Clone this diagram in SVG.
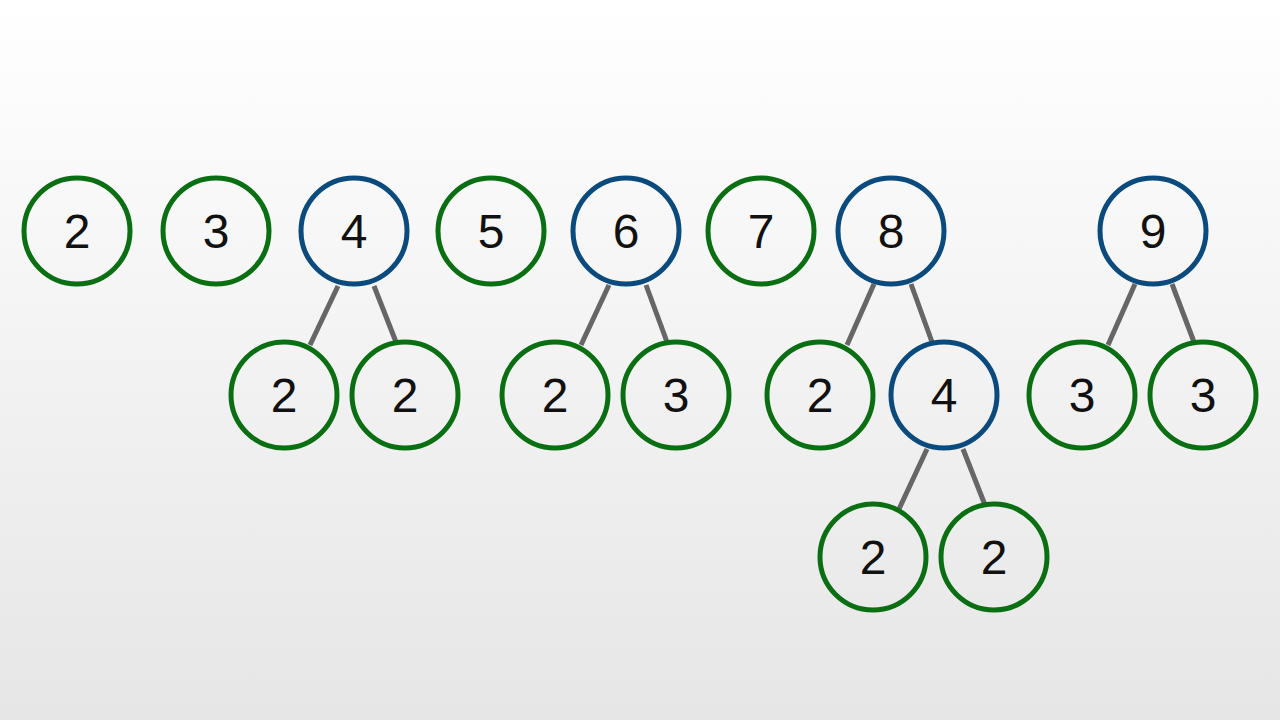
<svg xmlns="http://www.w3.org/2000/svg" width="1280" height="720" viewBox="0 0 1280 720">
<defs>
<linearGradient id="bg" x1="0" y1="0" x2="0" y2="1"><stop offset="0" stop-color="#ffffff"/><stop offset="1" stop-color="#e6e6e6"/></linearGradient>
<style>
.g{fill:none;stroke:#0a6e12;stroke-width:5}
.b{fill:none;stroke:#0b4a7c;stroke-width:5}
.t{font-family:"Liberation Sans",Arial,sans-serif;font-size:48px;fill:#111;text-anchor:middle}
.c line{stroke:#666;stroke-width:5}
</style>
</defs>
<rect width="1280" height="720" fill="url(#bg)"/>
<g class="c" id="connectors">
<line x1="338" y1="286" x2="310" y2="345"/><line x1="374" y1="286" x2="396" y2="342"/>
<line x1="609" y1="285" x2="581" y2="345"/><line x1="646" y1="285" x2="667" y2="342"/>
<line x1="874" y1="284" x2="847" y2="345"/><line x1="911" y1="284" x2="932" y2="342"/>
<line x1="1135" y1="284" x2="1108" y2="345"/><line x1="1172" y1="284" x2="1194" y2="342"/>
<line x1="927" y1="449" x2="899" y2="509"/><line x1="963" y1="449" x2="985" y2="505"/>
</g>
<g id="n2"><circle class="g" cx="77" cy="231" r="53"/><text class="t" x="77" y="248">2</text></g>
<g id="n3"><circle class="g" cx="216" cy="231" r="53"/><text class="t" x="216" y="248">3</text></g>
<g id="n4"><circle class="b" cx="354" cy="231" r="53"/><text class="t" x="354" y="248">4</text></g>
<g id="n5"><circle class="g" cx="491" cy="231" r="53"/><text class="t" x="491" y="248">5</text></g>
<g id="n6"><circle class="b" cx="626" cy="231" r="53"/><text class="t" x="626" y="248">6</text></g>
<g id="n7"><circle class="g" cx="761" cy="231" r="53"/><text class="t" x="761" y="248">7</text></g>
<g id="n8"><circle class="b" cx="891" cy="231" r="53"/><text class="t" x="891" y="248">8</text></g>
<g id="n9"><circle class="b" cx="1153" cy="231" r="53"/><text class="t" x="1153" y="248">9</text></g>
<g id="n4a"><circle class="g" cx="284" cy="395" r="53"/><text class="t" x="284" y="412">2</text></g>
<g id="n4b"><circle class="g" cx="405" cy="395" r="53"/><text class="t" x="405" y="412">2</text></g>
<g id="n6a"><circle class="g" cx="555" cy="395" r="53"/><text class="t" x="555" y="412">2</text></g>
<g id="n6b"><circle class="g" cx="676" cy="395" r="53"/><text class="t" x="676" y="412">3</text></g>
<g id="n8a"><circle class="g" cx="820" cy="395" r="53"/><text class="t" x="820" y="412">2</text></g>
<g id="n8b"><circle class="b" cx="944" cy="395" r="53"/><text class="t" x="944" y="412">4</text></g>
<g id="n9a"><circle class="g" cx="1082" cy="395" r="53"/><text class="t" x="1082" y="412">3</text></g>
<g id="n9b"><circle class="g" cx="1203" cy="395" r="53"/><text class="t" x="1203" y="412">3</text></g>
<g id="n8ba"><circle class="g" cx="873" cy="557" r="53"/><text class="t" x="873" y="574">2</text></g>
<g id="n8bb"><circle class="g" cx="994" cy="557" r="53"/><text class="t" x="994" y="574">2</text></g>
</svg>
